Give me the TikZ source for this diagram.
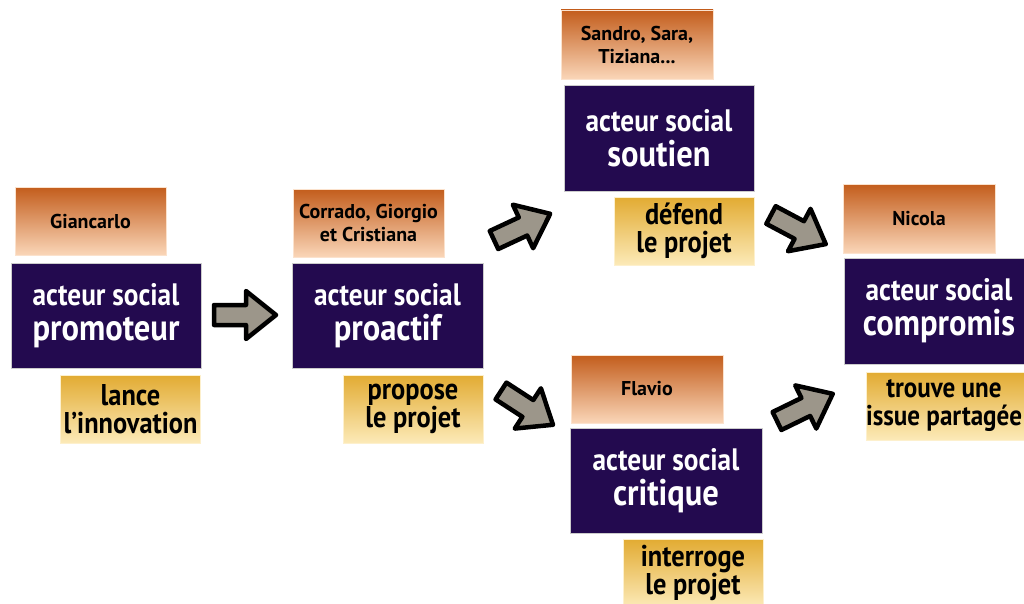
\documentclass[tikz,border=0pt]{standalone}
\usepackage{fontspec}
\newfontfamily\condfont{PT Sans}[FakeStretch=0.88]
\newfontfamily\namefont{PT Sans}
\definecolor{darkbox}{HTML}{230A4F}
\definecolor{orangetop}{HTML}{C35D1C}
\definecolor{orangebot}{HTML}{FAD6B8}
\definecolor{yellowtop}{HTML}{E2AB32}
\definecolor{yellowbot}{HTML}{FCEAB8}
\definecolor{arrowgray}{HTML}{9C968A}
\newcommand{\roletext}[1]{{\fontsize{31}{33}\selectfont acteur social}\\{\fontsize{37}{37}\selectfont #1}}
\begin{document}
\begin{tikzpicture}[x=1pt,y=-1pt,
 namebox/.style={rectangle, minimum width=151pt, minimum height=68pt, inner sep=0pt, top color=orangetop, bottom color=orangebot, draw=orangebot!70!white, line width=0.6pt, align=center, font=\namefont\bfseries\fontsize{20}{23}\selectfont},
 rolebox/.style={rectangle, minimum width=190pt, minimum height=105pt, fill=darkbox, draw=gray!40, line width=0.6pt, text=white, align=center, inner sep=0pt, font=\condfont\bfseries\fontsize{33}{35}\selectfont},
 actbox/.style={rectangle, minimum width=140pt, minimum height=68pt, inner sep=0pt, top color=yellowtop, bottom color=yellowbot, draw=yellowbot!70!white, line width=0.6pt, align=center, font=\condfont\bfseries\fontsize{30}{28}\selectfont},
 blockarr/.style={fill=arrowgray, draw=black, line width=4.5pt, line join=round},
 fatarrow/.pic={\draw[blockarr] (0,-10)--(32,-10)--(32,-24)--(62,0)--(32,24)--(32,10)--(0,10)--cycle;}]
\useasboundingbox (0,0) rectangle (1024,604);
\clip (0,0) rectangle (1024,604);
\fill[white] (0,0) rectangle (1024,604);

% column 1
\node[namebox] (n1) at (90.5,221) {Giancarlo};
\node[rolebox] (r1) at (106,315.5) {\roletext{promoteur}};
\node[actbox] (a1) at (130.5,409) {lance\\l’innovation};

% column 2
\node[namebox] (n2) at (368.5,223) {Corrado, Giorgio\\et Cristiana};
\node[rolebox, minimum width=191pt] (r2) at (387.5,315.5) {\roletext{proactif}};
\node[actbox] (a2) at (413,409) {propose\\le projet};

% column 3 top
\node[namebox, minimum width=152pt, minimum height=69pt] (n3) at (637,44.5) {Sandro, Sara,\\Tiziana...};
\node[rolebox, minimum height=106pt] (r3) at (659,138) {\roletext{soutien}};
\node[actbox] (a3) at (684,231) {défend\\le projet};

% column 3 bottom
\node[namebox, minimum width=152pt] (n4) at (647,389) {Flavio};
\node[rolebox, minimum width=192pt] (r4) at (666,480.5) {\roletext{critique}};
\node[actbox] (a4) at (693,573) {interroge\\le projet};

% column 4
\node[namebox, minimum width=152pt, minimum height=69pt] (n5) at (919,218.5) {Nicola};
\node[rolebox, minimum height=106pt] (r5) at (939,311) {\roletext{compromis}};
\node[actbox, minimum width=164pt] (a5) at (948,406) {};
\node[font=\condfont\bfseries\fontsize{28.5}{28}\selectfont, align=center, inner sep=0pt] (t5) at (944,406) {trouve une\\issue partagée};

% arrows
\coordinate (c1) at (214,315);
\coordinate (c2) at (494,240);
\coordinate (c3) at (501,391);
\coordinate (c4) at (771,215);
\coordinate (c5) at (777,421);
\pic[rotate=0] at (c1) {fatarrow};
\pic[rotate=25] at (c2) {fatarrow};
\pic[rotate=-33] at (c3) {fatarrow};
\pic[rotate=-28] at (c4) {fatarrow};
\pic[rotate=26] at (c5) {fatarrow};
\end{tikzpicture}
\end{document}
